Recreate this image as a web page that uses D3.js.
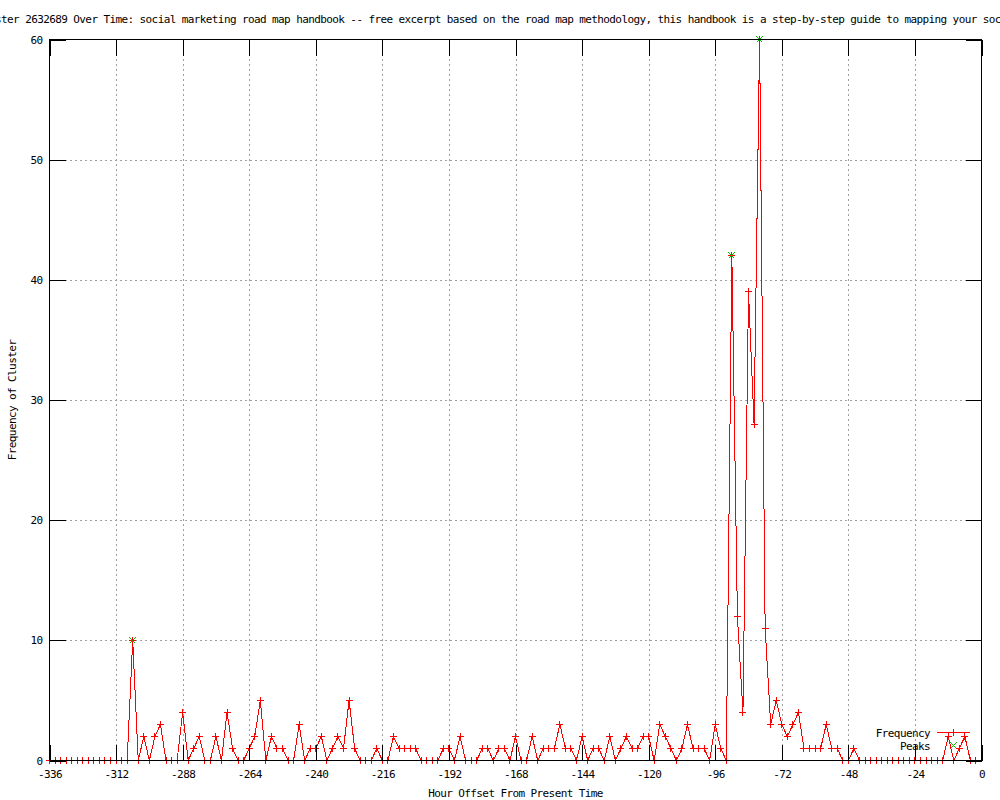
<!DOCTYPE html>
<html>
<head>
<meta charset="utf-8">
<script src="https://cdnjs.cloudflare.com/ajax/libs/d3/7.8.5/d3.min.js"></script>
<style>
  body { margin: 0; background: #fff; }
  svg { display: block; }
  text { font-family: "DejaVu Sans Mono", monospace; font-size: 11px; letter-spacing: -0.6px; fill: #000; }
  .grid line { stroke: #a0a0a0; stroke-dasharray: 2,3; shape-rendering: crispEdges; }
  .grid path { display: none; }
  .axis path { display: none; }
  .axis line { stroke: #000; shape-rendering: crispEdges; }
</style>
</head>
<body>
<svg width="1000" height="800"></svg>
<script>
var svg = d3.select("svg"),
    width = +svg.attr("width"),
    height = +svg.attr("height");

// hour offsets (x) and cluster frequency (y)
var hours = [
  -336,-334,-332,-330,-328,-326,-324,-322,-320,-318,-316,-314,
  -312,-310,-308,-306,-304,-302,-300,-298,-296,-294,-292,-290,
  -288,-286,-284,-282,-280,-278,-276,-274,-272,-270,-268,-266,
  -264,-262,-260,-258,-256,-254,-252,-250,-248,-246,-244,-242,
  -240,-238,-236,-234,-232,-230,-228,-226,-224,-222,-220,-218,
  -216,-214,-212,-210,-208,-206,-204,-202,-200,-198,-196,-194,
  -192,-190,-188,-186,-184,-182,-180,-178,-176,-174,-172,-170,
  -168,-166,-164,-162,-160,-158,-156,-154,-152,-150,-148,-146,
  -144,-142,-140,-138,-136,-134,-132,-130,-128,-126,-124,-122,
  -120,-118,-116,-114,-112,-110,-108,-106,-104,-102,-100,-98,
  -96,-94,-92,-90,-88,-86,-84,-82,-80,-78,-76,-74,
  -72,-70,-68,-66,-64,-62,-60,-58,-56,-54,-52,-50,
  -48,-46,-44,-42,-40,-38,-36,-34,-32,-30,-28,-26,
  -24,-22,-20,-18,-16,-14,-12,-10,-8,-6,-4,-2
];

var frequency = [
  0,0,0,0,0,0,0,0,0,0,0,0,
  0,0,0,10,0,2,0,2,3,0,0,0,
  4,0,1,2,0,0,2,0,4,1,0,0,
  1,2,5,0,2,1,1,0,0,3,0,1,
  1,2,0,1,2,1,5,1,0,0,0,1,
  0,0,2,1,1,1,1,0,0,0,0,1,
  1,0,2,0,0,0,1,1,0,1,1,0,
  2,0,0,2,0,1,1,1,3,1,1,0,
  2,0,1,1,0,2,0,1,2,1,1,2,
  2,0,3,2,1,0,1,3,1,1,1,0,
  3,1,0,42,12,4,39,28,60,11,3,5,
  3,2,3,4,1,1,1,1,3,1,1,0,
  0,1,0,0,0,0,0,0,0,0,0,0,
  0,0,0,0,0,0,2,0,1,2,0,0
];

var peakHours = [-306, -90, -80];
var peakValues = [10, 42, 60];

var xTicks = [-336, -312, -288, -264, -240, -216, -192, -168, -144, -120, -96, -72, -48, -24, 0];
var yTicks = [0, 10, 20, 30, 40, 50, 60];

var titleText = "Frequency of Cluster 2632689 Over Time: social marketing road map handbook -- free excerpt based on the road map methodology, this handbook is a step-by-step guide to mapping your social marketing plan";

var plotLeft = 49.5, plotRight = 981.5, plotTop = 39.5, plotBottom = 760.5;

var x = d3.scaleLinear().domain([-336, 0]).range([plotLeft, plotRight]);
var y = d3.scaleLinear().domain([0, 60]).range([plotBottom, plotTop]);

var tickLen = 16;

// grid
svg.append("g")
    .attr("class", "grid")
    .attr("transform", "translate(0," + plotBottom + ")")
    .call(d3.axisBottom(x).tickValues(xTicks.slice(1, -1)).tickSize(-(plotBottom - plotTop)).tickFormat(""));

svg.append("g")
    .attr("class", "grid")
    .attr("transform", "translate(" + plotLeft + ",0)")
    .call(d3.axisLeft(y).tickValues(yTicks.slice(1, -1)).tickSize(-(plotRight - plotLeft)).tickFormat(""));

// data line
var pts = hours.map(function(h, i) { return [h, frequency[i]]; });

svg.append("path")
    .datum(pts)
    .attr("fill", "none")
    .attr("stroke", "#ff0000")
    .attr("stroke-width", 1)
    .attr("shape-rendering", "crispEdges")
    .attr("d", d3.line().x(function(d) { return x(d[0]); }).y(function(d) { return y(d[1]); }));

var plusSize = 3.5;
function plusPath(cx, cy, s) {
  return "M" + (cx - s) + "," + cy + "H" + (cx + s) + "M" + cx + "," + (cy - s) + "V" + (cy + s);
}
function crossPath(cx, cy, s) {
  return "M" + (cx - s) + "," + (cy - s) + "L" + (cx + s) + "," + (cy + s) +
         "M" + (cx - s) + "," + (cy + s) + "L" + (cx + s) + "," + (cy - s);
}

svg.append("g")
  .selectAll("path")
  .data(pts)
  .enter().append("path")
    .attr("fill", "none")
    .attr("stroke", "#ff0000")
    .attr("shape-rendering", "crispEdges")
    .attr("d", function(d) { return plusPath(Math.round(x(d[0]) - 0.5) + 0.5, Math.round(y(d[1]) - 0.5) + 0.5, plusSize); });

// peaks
svg.append("g")
  .selectAll("path")
  .data(peakHours)
  .enter().append("path")
    .attr("fill", "none")
    .attr("stroke", "#00c000")
    .attr("shape-rendering", "crispEdges")
    .attr("d", function(d, i) { return crossPath(Math.round(x(d) - 0.5) + 0.5, Math.round(y(peakValues[i]) - 0.5) + 0.5, 3); });

// border
svg.append("rect")
    .attr("x", plotLeft).attr("y", plotTop)
    .attr("width", plotRight - plotLeft).attr("height", plotBottom - plotTop)
    .attr("fill", "none")
    .attr("stroke", "#000")
    .attr("shape-rendering", "crispEdges");

// axes (ticks inward, mirrored)
var fmt = function(d) { return String(d); };

svg.append("g")
    .attr("class", "axis")
    .attr("transform", "translate(0," + plotBottom + ")")
    .call(d3.axisBottom(x).tickValues(xTicks).tickSize(-tickLen).tickPadding(10).tickFormat(fmt));

svg.append("g")
    .attr("class", "axis")
    .attr("transform", "translate(0," + plotTop + ")")
    .call(d3.axisTop(x).tickValues(xTicks).tickSize(-tickLen).tickFormat(""));

svg.append("g")
    .attr("class", "axis")
    .attr("transform", "translate(" + plotLeft + ",0)")
    .call(d3.axisLeft(y).tickValues(yTicks).tickSize(-tickLen).tickPadding(7).tickFormat(fmt));

svg.append("g")
    .attr("class", "axis")
    .attr("transform", "translate(" + plotRight + ",0)")
    .call(d3.axisRight(y).tickValues(yTicks).tickSize(-tickLen).tickFormat(""));

svg.selectAll(".axis text")
    .style("font-family", "'DejaVu Sans Mono', monospace")
    .style("font-size", "11px");

// title
svg.append("text")
    .attr("x", 1 - 17 * 6.02)
    .attr("y", 23)
    .text(titleText);

// axis labels
svg.append("text")
    .attr("x", (plotLeft + plotRight) / 2)
    .attr("y", 797)
    .attr("text-anchor", "middle")
    .text("Hour Offset From Present Time");

svg.append("text")
    .attr("transform", "translate(16," + ((plotTop + plotBottom) / 2) + ") rotate(-90)")
    .attr("text-anchor", "middle")
    .text("Frequency of Cluster");

// legend
var legend = svg.append("g");
legend.append("text")
    .attr("x", 930).attr("y", 737)
    .attr("text-anchor", "end")
    .text("Frequency");
legend.append("text")
    .attr("x", 930).attr("y", 750)
    .attr("text-anchor", "end")
    .text("Peaks");
legend.append("path")
    .attr("fill", "none")
    .attr("stroke", "#ff0000")
    .attr("shape-rendering", "crispEdges")
    .attr("d", "M937,732.5H970" + plusPath(953.5, 732.5, plusSize));
legend.append("path")
    .attr("fill", "none")
    .attr("stroke", "#00c000")
    .attr("shape-rendering", "crispEdges")
    .attr("d", crossPath(953.5, 745.5, 3));
</script>
</body>
</html>
